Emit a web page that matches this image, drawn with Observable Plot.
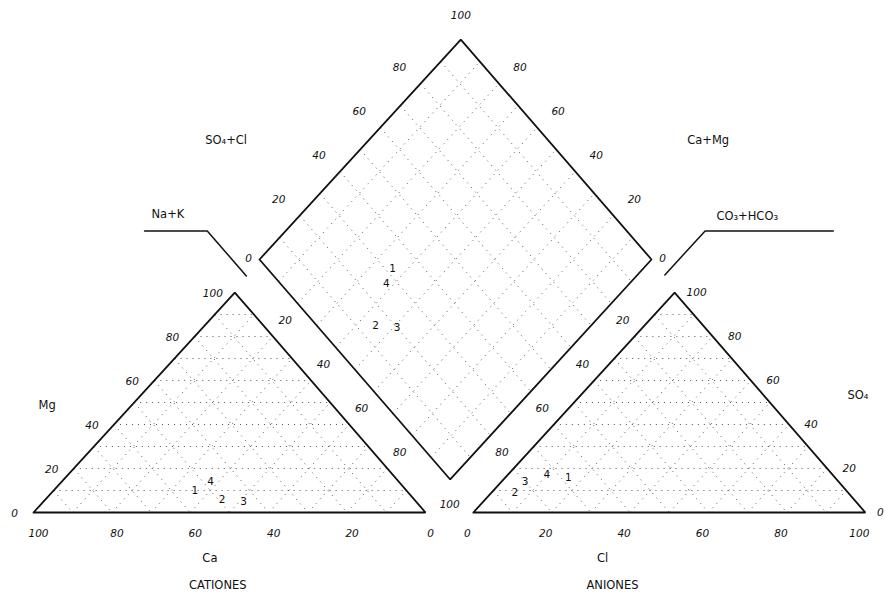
<!DOCTYPE html>
<html><head><meta charset="utf-8">
<script src="https://cdn.jsdelivr.net/npm/d3@7"></script>
<script src="https://cdn.jsdelivr.net/npm/@observablehq/plot@0.6"></script>
<style>body{margin:0;background:#fff}</style>
</head><body><div id="chart"></div>
<script>
// ---- data: sample compositions (% meq) ----
const samples = ["1", "2", "3", "4"];
const ca   = [54, 49, 44, 48];
const mg   = [10,  6,  5, 14];
const nak  = [36, 45, 51, 38];
const hco3 = [68, 85, 80, 73];
const so4  = [16,  9, 14, 17];
const cl   = [16,  6,  6, 10];
const ticks = [0, 20, 40, 60, 80, 100];
const innerTicks = [20, 40, 60, 80];
const gridSteps = [10, 20, 30, 40, 50, 60, 70, 80, 90];

// ---- layout (piper geometry in ternary units) ----
const H = 86.6, GAP = 12.2, DB = [106.1, 13.0], SHEAR = 0.0156;
const P = ([X, Y]) => [X + SHEAR * Y, Y];
const cat = (c, m, k) => P([k + m / 2, m * H / 100]);
const an = (h, s, c) => P([100 + GAP + c + s / 2, s * H / 100]);
const dia = (s, n) => P([DB[0] - 50 + s / 2 + n / 2, DB[1] + H + (s - n) * H / 100]);
const mid = (...pts) => [d3.mean(pts, p => p[0]), d3.mean(pts, p => p[1])];

// grid
const grid = [];
for (const i of gridSteps) {
  grid.push([cat(100 - i, i, 0), cat(0, i, 100 - i)]);
  grid.push([cat(i, 100 - i, 0), cat(i, 0, 100 - i)]);
  grid.push([cat(100 - i, 0, i), cat(0, 100 - i, i)]);
  grid.push([an(100 - i, i, 0), an(0, i, 100 - i)]);
  grid.push([an(i, 100 - i, 0), an(i, 0, 100 - i)]);
  grid.push([an(100 - i, 0, i), an(0, 100 - i, i)]);
  grid.push([dia(i, 0), dia(i, 100)]);
  grid.push([dia(0, i), dia(100, i)]);
}

// outlines
const outlines = [
  [cat(100, 0, 0), cat(0, 100, 0), cat(0, 0, 100), cat(100, 0, 0)],
  [an(100, 0, 0), an(0, 100, 0), an(0, 0, 100), an(100, 0, 0)],
  [dia(0, 0), dia(100, 0), dia(100, 100), dia(0, 100), dia(0, 0)]
].flatMap((poly, g) => poly.map(p => ({x: p[0], y: p[1], g})));

// leaders
const l1a = dia(-7, 0.5), l1b = dia(-7, -20);
const l2a = dia(100, 107), l2b = dia(120, 107);
const leaders = [
  [l1a, l1b, [l1b[0] - 16, l1b[1]]],
  [l2a, l2b, [l2b[0] + 32.7, l2b[1]]]
].flatMap((poly, g) => poly.map(p => ({x: p[0], y: p[1], g})));

// tick labels, grouped by pixel offset
const groups = new Map();
const add = (p, t, dx, dy) => {
  const k = dx + "," + dy;
  if (!groups.has(k)) groups.set(k, {dx, dy, rows: []});
  groups.get(k).rows.push({x: p[0], y: p[1], t: String(t)});
};
ticks.forEach(v => add(cat(v, 0, 100 - v), v, 5, 21));
ticks.forEach(v => add(cat(100 - v, v, 0), v, v === 0 ? -19 : -22, 1));
ticks.forEach(v => add(an(100 - v, 0, v), v, -6, 21));
ticks.forEach(v => add(an(0, v, 100 - v), v, v === 0 ? 15 : 22, 0));
innerTicks.forEach(v => add(dia(v, 0), v, -21, -15.5));
innerTicks.forEach(v => add(dia(100, 100 - v), v, 21, -15.5));
innerTicks.forEach(v => add(mid(cat(0, 100 - v, v), dia(0, v)), v, 0, 1));
innerTicks.forEach(v => add(mid(an(v, 100 - v, 0), dia(100 - v, 100)), v, 0, 1));
add(dia(0, 0), 0, -11, -1);
add(dia(100, 100), 0, 11, -1);
add(dia(100, 0), 100, 0, -24);
add(mid(cat(0, 0, 100), an(100, 0, 0), dia(0, 100)), 100, 0, 3);

// sample positions
const pts = samples.flatMap((s, i) => [
  {p: cat(ca[i], mg[i], nak[i]), s},
  {p: an(hco3[i], so4[i], cl[i]), s},
  {p: dia(so4[i] + cl[i], nak[i]), s}
]);

// axis titles
const titles = [
  {p: cat(50, 50, 0), t: "Mg", dx: -87, dy: 3},
  {p: cat(55, 0, 45), t: "Ca", dx: 0, dy: 46},
  {p: cat(53, 0, 47), t: "CATIONES", dx: 0, dy: 73},
  {p: an(67, 0, 33), t: "Cl", dx: 0, dy: 46},
  {p: an(64.5, 0, 35.5), t: "ANIONES", dx: 0, dy: 73},
  {p: an(0, 50, 50), t: "SO₄", dx: 88, dy: -7},
  {p: dia(50, 0), t: "SO₄+Cl", dx: -134, dy: -9},
  {p: dia(100, 50), t: "Ca+Mg", dx: 152, dy: -9},
  {p: mid(l1b, [l1b[0] - 16, l1b[1]]), t: "Na+K", dx: -8, dy: -17},
  {p: mid(l2b, [l2b[0] + 32.7, l2b[1]]), t: "CO₃+HCO₃", dx: -22, dy: -15}
];

const font = "DejaVu Sans";
const chart = Plot.plot({
  width: 886, height: 602, margin: 0,
  x: {domain: [-33 / 3.92, (886 - 33) / 3.92], axis: null},
  y: {domain: [(512 - 602) / 2.54, 512 / 2.54], axis: null},
  style: {background: "#fff"},
  marks: [
    Plot.link(grid, {x1: d => d[0][0], y1: d => d[0][1], x2: d => d[1][0], y2: d => d[1][1],
      stroke: "#555", strokeWidth: 1, strokeDasharray: "1 5"}),
    Plot.line(outlines, {x: "x", y: "y", z: "g", stroke: "#111", strokeWidth: 1.8, strokeLinejoin: "miter"}),
    Plot.line(leaders, {x: "x", y: "y", z: "g", stroke: "#111", strokeWidth: 1.5}),
    ...[...groups.values()].map(g => Plot.text(g.rows, {x: "x", y: "y", text: "t", dx: g.dx, dy: g.dy,
      fontFamily: font, fontSize: 10.5, fontStyle: "italic", fill: "#111"})),
    Plot.text(pts, {x: d => d.p[0], y: d => d.p[1], text: "s", fontFamily: font, fontSize: 10.5, fill: "#111"}),
    ...titles.map(t => Plot.text([t], {x: d => d.p[0], y: d => d.p[1], text: "t", dx: t.dx, dy: t.dy,
      fontFamily: font, fontSize: 11.5, fill: "#111"}))
  ]
});
document.getElementById("chart").append(chart);
</script>
</body></html>
